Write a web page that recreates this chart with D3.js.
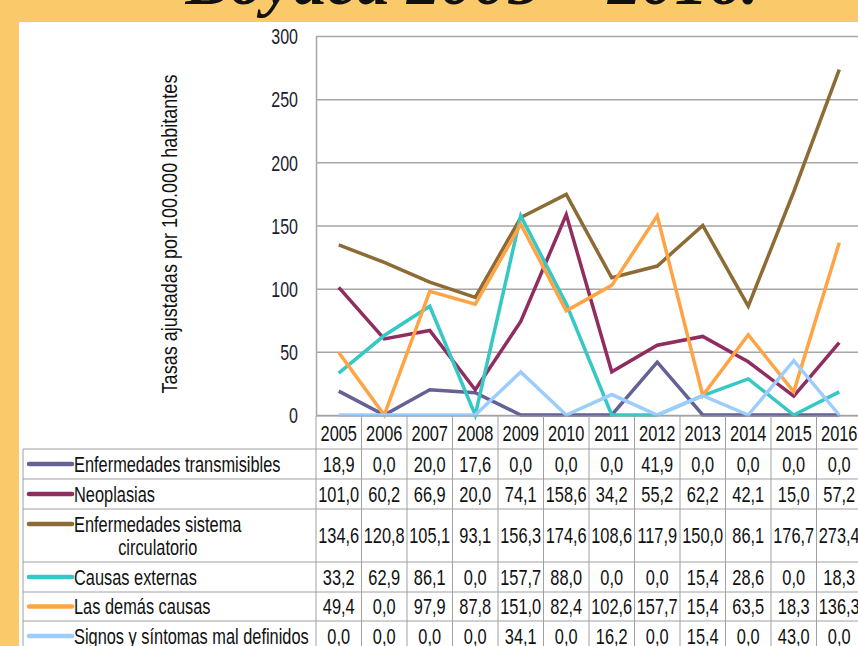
<!DOCTYPE html>
<html>
<head>
<meta charset="utf-8">
<script src="https://cdn.jsdelivr.net/npm/d3@7"></script>
<style>
  html, body { margin: 0; padding: 0; background: #FACA6A; }
  svg { display: block; }
  .narrow { font-family: "Liberation Sans", Arial, sans-serif; }
</style>
</head>
<body>
<svg id="chart" width="858" height="646"></svg>
<script>
// datos: tasas ajustadas por 100.000 habitantes
const years = ['2005','2006','2007','2008','2009','2010','2011','2012','2013','2014','2015','2016'];
const transmisibles = [18.9, 0.0, 20.0, 17.6, 0.0, 0.0, 0.0, 41.9, 0.0, 0.0, 0.0, 0.0];
const neoplasias = [101.0, 60.2, 66.9, 20.0, 74.1, 158.6, 34.2, 55.2, 62.2, 42.1, 15.0, 57.2];
const circulatorio = [134.6, 120.8, 105.1, 93.1, 156.3, 174.6, 108.6, 117.9, 150.0, 86.1, 176.7, 273.4];
const externas = [33.2, 62.9, 86.1, 0.0, 157.7, 88.0, 0.0, 0.0, 15.4, 28.6, 0.0, 18.3];
const demas = [49.4, 0.0, 97.9, 87.8, 151.0, 82.4, 102.6, 157.7, 15.4, 63.5, 18.3, 136.3];
const signos = [0.0, 0.0, 0.0, 0.0, 34.1, 0.0, 16.2, 0.0, 15.4, 0.0, 43.0, 0.0];
const yTicks = [0, 50, 100, 150, 200, 250, 300];

const series = [
  { name: ['Enfermedades transmisibles'], values: transmisibles, color: '#636196' },
  { name: ['Neoplasias'], values: neoplasias, color: '#902d60' },
  { name: ['Enfermedades sistema', 'circulatorio'], values: circulatorio, color: '#8c6b35' },
  { name: ['Causas externas'], values: externas, color: '#35c8c4' },
  { name: ['Las demás causas'], values: demas, color: '#ffa444' },
  { name: ['Signos y síntomas mal definidos'], values: signos, color: '#9dcdfb' }
];

const svg = d3.select('#chart');
const fmt = v => v.toFixed(1).replace('.', ',');
const SQ = 0.745; // no hay Arial Narrow: se comprime la letra a lo ancho

// texto estrecho anclado en (x, y)
function narrow(g, x, y, str, anchor) {
  return g.append('text')
    .attr('transform', `translate(${x},${y}) scale(${SQ},1)`)
    .attr('dy', '0.36em').attr('text-anchor', anchor || 'start').text(str);
}

// panel blanco + titulo cortado
svg.append('rect').attr('x', 19).attr('y', 22).attr('width', 839).attr('height', 624).attr('fill', '#fff');
svg.append('text').attr('x', 472).attr('y', 4).attr('text-anchor', 'middle')
  .style('font-family', '"Liberation Serif", "Times New Roman", serif')
  .style('font-weight', 'bold').style('font-style', 'italic').style('font-size', '67px')
  .attr('fill', '#111').text('Boyacá 2005 – 2016.');

const plotLeft = 316, plotRight = 862, plotTop = 36, zero = 415;
const x = d3.scaleBand().domain(years).range([plotLeft, plotRight]);
const y = d3.scaleLinear().domain([0, 300]).range([zero, plotTop]);

// rejilla
const grid = svg.append('g').attr('transform', `translate(${plotLeft},0)`)
  .call(d3.axisLeft(y).tickValues(yTicks).tickSize(-(plotRight - plotLeft)).tickFormat(''));
grid.select('.domain').remove();
grid.selectAll('line').attr('stroke', '#a6a6a6').attr('stroke-width', 1.5);

const yAxis = svg.append('g').attr('class', 'narrow').attr('transform', `translate(${plotLeft},0)`)
  .call(d3.axisLeft(y).tickValues(yTicks).tickSize(0).tickPadding(18));
yAxis.select('.domain').attr('stroke', '#a6a6a6').attr('stroke-width', 1.5);
yAxis.selectAll('text').style('font-size', '21.5px').attr('fill', '#1c1c30').attr('dy', '0.36em')
  .style('font-family', '"Liberation Sans", Arial, sans-serif')
  .attr('x', -18 / SQ).attr('transform', `scale(${SQ},1)`);

svg.append('text').attr('class', 'narrow')
  .attr('transform', `translate(177,234) rotate(-90) scale(0.82,1)`).attr('text-anchor', 'middle')
  .style('font-size', '22px').attr('fill', '#111')
  .text('Tasas ajustadas por 100.000 habitantes');

// lineas
const line = d3.line().x((d, i) => x(years[i]) + x.bandwidth() / 2).y(d => y(d));
svg.append('g').selectAll('path').data(series).join('path')
  .attr('d', d => line(d.values))
  .attr('fill', 'none').attr('stroke', d => d.color).attr('stroke-width', 3.5)
  .attr('stroke-linejoin', 'miter');

// tabla de datos
const rowTops = [449, 479, 509, 562, 592, 621, 651];
const tableLeft = 23, headTop = 416;
const tbl = svg.append('g').attr('class', 'narrow').style('font-size', '22px').attr('fill', '#111');
const bc = '#a0a0a0';

tbl.append('line').attr('x1', plotLeft).attr('x2', plotRight).attr('y1', headTop).attr('y2', headTop).attr('stroke', bc);
rowTops.forEach(r => tbl.append('line').attr('x1', tableLeft).attr('x2', plotRight)
  .attr('y1', r).attr('y2', r).attr('stroke', bc));
tbl.append('line').attr('x1', tableLeft).attr('x2', tableLeft).attr('y1', rowTops[0]).attr('y2', 646).attr('stroke', bc);
years.forEach(yr => tbl.append('line').attr('x1', x(yr)).attr('x2', x(yr))
  .attr('y1', headTop).attr('y2', 646).attr('stroke', bc));

years.forEach(yr => narrow(tbl, x(yr) + x.bandwidth() / 2, (headTop + rowTops[0]) / 2 + 1, yr, 'middle'));

series.forEach((s, i) => {
  const t0 = rowTops[i], t1 = rowTops[i + 1];
  const mid = (t0 + t1) / 2;
  const ly = s.name.length > 1 ? t0 + 15 : mid;
  tbl.append('line').attr('x1', 29).attr('x2', 72).attr('y1', ly).attr('y2', ly)
    .attr('stroke', s.color).attr('stroke-width', 4.5).attr('stroke-linecap', 'round');
  const tx = narrow(tbl, 74, ly, s.name[0]);
  if (s.name.length > 1) {
    const w = tx.node().getComputedTextLength() * SQ;
    narrow(tbl, 74 + w / 2, ly + 23, s.name[1], 'middle');
  }
  s.values.forEach((v, j) => narrow(tbl, x(years[j]) + x.bandwidth() / 2, mid, fmt(v), 'middle'));
});
</script>
</body>
</html>
